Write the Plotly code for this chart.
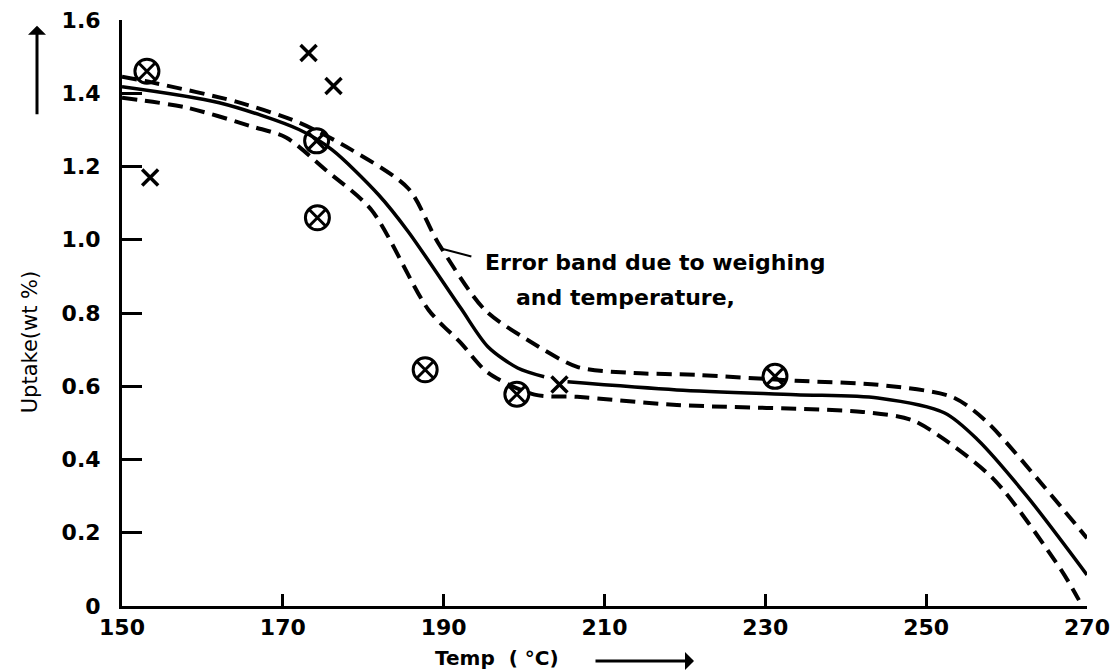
import plotly.graph_objects as go

# ---- data ----
fit_temp = [150, 162.1, 172.0, 176.1, 181.9, 185.6, 192.1, 195.5, 199.2, 202.5,
            None, 205.4, 219.0, 233.8, 244.0, 252.3, 256.4, 262.6, 270.0]
fit_uptake = [1.418, 1.374, 1.301, 1.246, 1.123, 1.022, 0.814, 0.708, 0.650, 0.626,
              None, 0.612, 0.590, 0.577, 0.568, 0.527, 0.454, 0.298, 0.085]

upper_temp = [150, 153.8, 164.2, 172.0, 178.5, 185.6, 189.3, 195.1, 200.4, 206.6, 212.8,
              221.4, 233.8, 244.0, 253.2, 257.3, 264.7, 270.0]
upper_uptake = [1.445, 1.429, 1.377, 1.320, 1.246, 1.14, 0.992, 0.809, 0.727, 0.653, 0.637,
                0.631, 0.615, 0.604, 0.571, 0.508, 0.325, 0.185]

lower_temp = [150, 158.0, 166.2, 170.4, 175.3, 181.0, 188.1, 192.1, 195.5, 201.3, 206.6,
              219.0, 242.1, 248.2, 252.3, 258.5, 266.8, 269.0]
lower_uptake = [1.388, 1.361, 1.309, 1.279, 1.191, 1.082, 0.809, 0.719, 0.637, 0.577, 0.571,
                0.549, 0.530, 0.508, 0.454, 0.344, 0.098, 0.016]

circ_temp = [153.1, 174.2, 174.3, 187.7, 199.1, 231.2]
circ_uptake = [1.46, 1.27, 1.06, 0.645, 0.578, 0.627]

x_temp = [153.5, 173.2, 176.3, 204.4, 270.2]
x_uptake = [1.17, 1.51, 1.42, 0.605, 0.055]

x_ticks = [150, 170, 190, 210, 230, 250, 270]
x_ticktext = ["150", "170", "190", "210", "230", "250", "270"]
y_ticks = [0, 0.2, 0.4, 0.6, 0.8, 1.0, 1.2, 1.4, 1.6]
y_ticktext = ["0", "0.2", "0.4", "0.6", "0.8", "1.0", "1.2", "1.4", "1.6"]

FONT = "DejaVu Sans"
L, R = 122, 26
PW = 1113 - L - R

fig = go.Figure()
fig.add_trace(go.Scatter(x=upper_temp, y=upper_uptake, mode="lines",
                         line=dict(color="black", width=4, dash="15px,8px", shape="spline", smoothing=0.8),
                         hoverinfo="skip", showlegend=False))
fig.add_trace(go.Scatter(x=lower_temp, y=lower_uptake, mode="lines",
                         line=dict(color="black", width=4, dash="15px,8px", shape="spline", smoothing=0.8),
                         hoverinfo="skip", showlegend=False))
fig.add_trace(go.Scatter(x=fit_temp, y=fit_uptake, mode="lines", connectgaps=False,
                         line=dict(color="black", width=3.5, shape="spline", smoothing=0.8),
                         showlegend=False))
fig.add_trace(go.Scatter(x=circ_temp, y=circ_uptake, mode="markers", cliponaxis=False,
                         marker=dict(symbol="circle-x-open", size=24, color="black",
                                     line=dict(color="black", width=3)),
                         showlegend=False))
fig.add_trace(go.Scatter(x=x_temp, y=x_uptake, mode="markers", cliponaxis=False,
                         marker=dict(symbol="x-thin-open", size=16, color="black",
                                     line=dict(color="black", width=3.5)),
                         showlegend=False))

fig.update_layout(
    width=1113, height=671,
    margin=dict(l=L, r=R, t=20, b=65, autoexpand=False),
    paper_bgcolor="white", plot_bgcolor="white",
    font=dict(family=FONT, color="black"),
    xaxis=dict(range=[150, 270], tickvals=x_ticks, ticktext=x_ticktext,
               showgrid=False, zeroline=False, showline=True, linecolor="black", linewidth=3,
               ticks="inside", ticklen=12, tickwidth=3, tickcolor="black",
               ticklabeloverflow="allow", automargin=False,
               tickfont=dict(family=FONT, size=22, weight="bold", color="black")),
    yaxis=dict(range=[0, 1.6], tickvals=y_ticks, ticktext=y_ticktext,
               showgrid=False, zeroline=False, showline=True, linecolor="black", linewidth=3,
               ticks="inside", ticklen=20, tickwidth=3, tickcolor="black",
               ticklabelstandoff=14, ticklabeloverflow="allow", automargin=False,
               tickfont=dict(family=FONT, size=22, weight="bold", color="black")),
)

# annotation for error band
fig.add_annotation(x=194.9, y=0.937, xref="x", yref="y", text="Error band due to weighing",
                   showarrow=False, xanchor="left", yanchor="middle",
                   font=dict(family=FONT, size=22, weight="bold", color="black"))
fig.add_annotation(x=198.8, y=0.842, xref="x", yref="y", text="and temperature,",
                   showarrow=False, xanchor="left", yanchor="middle",
                   font=dict(family=FONT, size=22, weight="bold", color="black"))
fig.add_annotation(x=189.9, y=0.975, xref="x", yref="y", text="", showarrow=True,
                   ax=30, ay=8, arrowhead=0, arrowwidth=2, arrowcolor="black")

# axis titles
fig.add_annotation(x=(30 - L) / PW, y=0.45, xref="paper", yref="paper", text="Uptake(wt %)",
                   textangle=-90, showarrow=False, xanchor="center", yanchor="middle",
                   font=dict(family=FONT, size=21, color="black"))
fig.add_annotation(x=(37 - L) / PW, y=0.99, xref="paper", yref="paper", text="", showarrow=True,
                   ax=0, ay=90, arrowhead=1, arrowsize=1, arrowwidth=3, arrowcolor="black")
fig.add_annotation(x=(497 - L) / PW, y=-0.088, xref="paper", yref="paper", text="Temp  ( °C)",
                   showarrow=False, xanchor="center", yanchor="middle",
                   font=dict(family=FONT, size=20, weight="bold", color="black"))
fig.add_annotation(x=(694 - L) / PW, y=-0.094, xref="paper", yref="paper", text="", showarrow=True,
                   ax=-100, ay=0, arrowhead=1, arrowsize=1, arrowwidth=3, arrowcolor="black")

fig.write_html("out.html")
